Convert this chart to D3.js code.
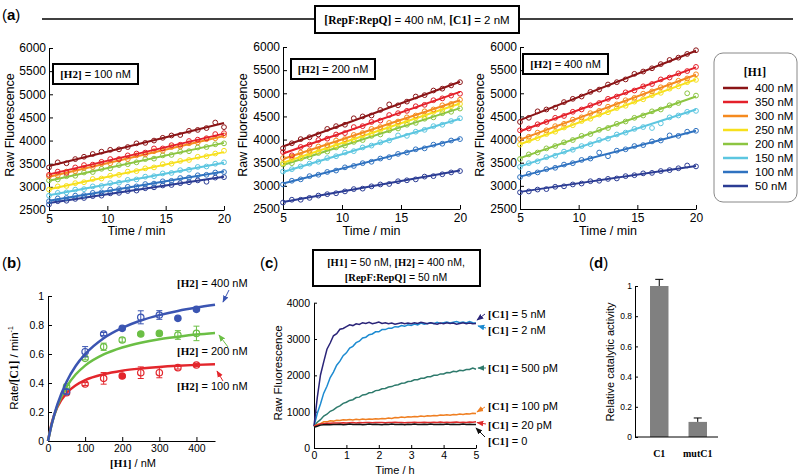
<!DOCTYPE html>
<html>
<head>
<meta charset="utf-8">
<script src="https://cdn.jsdelivr.net/npm/d3@7"></script>
<style>
  html, body { margin: 0; padding: 0; background: #fff; }
  text { white-space: pre; }
</style>
</head>
<body>
<div id="fig"></div>
<script>
// ---------- data ----------
// panel (a): time points (min) and fitted lines for each [H1]
const tMin = [5, 5.75, 6.5, 7.25, 8, 8.75, 9.5, 10.25, 11, 11.75, 12.5, 13.25, 14, 14.75, 15.5, 16.25, 17, 17.75, 18.5, 19.25, 20];
const fitT = [5, 20];
const h1Levels = ["400 nM", "350 nM", "300 nM", "250 nM", "200 nM", "150 nM", "100 nM", "50 nM"];
const h1Colors = ["#8b1416", "#e4202a", "#f58a1f", "#f7e01c", "#8cc541", "#5cc6e0", "#2f72c0", "#2b3c94"];
const h2Titles = ["[H2] = 100 nM", "[H2] = 200 nM", "[H2] = 400 nM"];

// fitted start / end (t = 5 and t = 20)
const lineH2_100 = [[3450, 4380], [3270, 4150], [3220, 4100], [2950, 3750], [3130, 3950], [2820, 3520], [2700, 3330], [2650, 3220]];
const lineH2_200 = [[3850, 5250], [3700, 5030], [3580, 4850], [3500, 4780], [3450, 4680], [3300, 4450], [3050, 4020], [2650, 3330]];
const lineH2_400 = [[4420, 5920], [4180, 5560], [4000, 5400], [3900, 5300], [3600, 4930], [3420, 4650], [3200, 4190], [2870, 3430]];

// raw fluorescence readings
const rawH2_100 = [
  [3420, 3530, 3510, 3600, 3650, 3710, 3760, 3800, 3810, 3860, 3940, 3950, 4000, 4060, 4110, 4120, 4210, 4230, 4270, 4390, 4290],
  [3260, 3330, 3300, 3420, 3470, 3480, 3540, 3600, 3600, 3680, 3720, 3740, 3830, 3830, 3900, 3910, 3990, 4020, 4050, 4140, 4160],
  [3230, 3250, 3330, 3340, 3410, 3430, 3500, 3510, 3590, 3600, 3680, 3700, 3770, 3780, 3860, 3870, 3940, 3960, 4030, 4050, 4110],
  [2940, 3010, 3020, 3080, 3100, 3170, 3180, 3240, 3260, 3330, 3340, 3400, 3420, 3490, 3500, 3560, 3580, 3650, 3660, 3720, 3780],
  [3140, 3160, 3230, 3240, 3310, 3320, 3390, 3400, 3470, 3490, 3530, 3600, 3610, 3680, 3690, 3760, 3770, 3850, 3860, 3920, 3940],
  [2810, 2870, 2880, 2940, 2950, 3010, 3020, 3080, 3090, 3150, 3160, 3220, 3230, 3290, 3300, 3360, 3370, 3430, 3440, 3500, 3530],
  [2690, 2750, 2760, 2810, 2820, 2870, 2880, 2940, 2950, 3000, 3010, 3060, 3070, 3120, 3130, 3190, 3200, 3250, 3260, 3310, 3320],
  [2620, 2690, 2700, 2740, 2760, 2800, 2810, 2860, 2870, 2910, 2920, 2970, 2990, 3030, 3040, 3080, 3100, 3140, 3110, 3200, 3210]
];
const rawH2_200 = [
  [3810, 3920, 4010, 4050, 4110, 4230, 4290, 4320, 4460, 4500, 4520, 4640, 4760, 4740, 4820, 4930, 4960, 5060, 5100, 5170, 5240],
  [3730, 3660, 3840, 3890, 3990, 4020, 4110, 4140, 4270, 4290, 4380, 4410, 4530, 4570, 4620, 4720, 4750, 4850, 4890, 4950, 4990],
  [3600, 3630, 3720, 3760, 3850, 3880, 3980, 4010, 4100, 4140, 4230, 4270, 4360, 4390, 4480, 4520, 4610, 4650, 4740, 4770, 4860],
  [3490, 3580, 3610, 3700, 3740, 3830, 3870, 3960, 4000, 4090, 4130, 4210, 4260, 4340, 4380, 4470, 4510, 4600, 4640, 4720, 4770],
  [3460, 3490, 3590, 3620, 3710, 3740, 3830, 3870, 3950, 3990, 4080, 4110, 4200, 4240, 4320, 4360, 4450, 4480, 4570, 4600, 4670],
  [3310, 3360, 3420, 3480, 3520, 3600, 3640, 3720, 3750, 3830, 3870, 3940, 3980, 4090, 4080, 4170, 4210, 4290, 4320, 4400, 4460],
  [3030, 3110, 3140, 3210, 3240, 3300, 3330, 3400, 3430, 3490, 3520, 3590, 3620, 3690, 3720, 3790, 3810, 3890, 3910, 3980, 4010],
  [2640, 2700, 2700, 2740, 2790, 2820, 2840, 2880, 2930, 2940, 2990, 3030, 3040, 3100, 3120, 3140, 3200, 3210, 3250, 3290, 3320]
];
const rawH2_400 = [
  [4380, 4470, 4610, 4650, 4690, 4810, 4880, 4930, 5030, 5080, 5190, 5240, 5300, 5420, 5470, 5540, 5630, 5720, 5770, 5850, 5930],
  [4200, 4240, 4330, 4380, 4470, 4510, 4600, 4650, 4740, 4790, 4880, 4930, 5020, 5060, 5150, 5200, 5300, 5340, 5430, 5480, 5570],
  [4010, 4060, 4150, 4200, 4290, 4340, 4430, 4480, 4570, 4620, 4710, 4760, 4850, 4900, 4990, 5040, 5130, 5180, 5270, 5320, 5410],
  [3890, 3980, 4030, 4120, 4170, 4260, 4310, 4400, 4450, 4540, 4590, 4680, 4730, 4820, 4870, 4960, 5010, 5100, 5150, 5240, 5290],
  [3580, 3680, 3720, 3810, 3860, 3940, 3990, 4080, 4120, 4210, 4250, 4340, 4390, 4470, 4520, 4610, 4650, 4740, 4790, 5000, 4950],
  [3410, 3490, 3530, 3620, 3650, 3740, 3780, 3860, 3900, 3990, 4020, 4110, 4150, 4230, 4270, 4250, 4350, 4480, 4520, 4600, 4620],
  [3190, 3260, 3290, 3360, 3390, 3460, 3490, 3560, 3590, 3720, 3640, 3760, 3790, 3860, 3880, 3960, 3980, 4090, 4080, 4170, 4190],
  [2860, 2880, 2920, 2930, 2980, 2990, 3030, 3050, 3100, 3110, 3150, 3160, 3210, 3230, 3270, 3280, 3320, 3340, 3380, 3440, 3420]
];
const aTicksX = [5, 10, 15, 20];
const aTicksY = [2500, 3000, 3500, 4000, 4500, 5000, 5500, 6000];

// panel (b): rate vs [H1]
const h1Conc = [50, 100, 150, 200, 250, 300, 350, 400];
const bSeries = ["[H2] = 400 nM", "[H2] = 200 nM", "[H2] = 100 nM"];
const bColors = ["#3b55b2", "#6bbf45", "#e3262c"];
const rateH2_400 = [0.34, 0.616, 0.738, 0.777, 0.853, 0.869, 0.846, 0.908];
const rateH2_200 = [0.375, 0.57, 0.65, 0.697, 0.738, 0.742, 0.731, 0.742];
const rateH2_100 = [0.333, 0.393, 0.432, 0.448, 0.471, 0.471, 0.506, 0.524];
const errH2_400 = [0.015, 0.035, 0.01, 0.01, 0.045, 0.03, 0.01, 0.01];
const errH2_200 = [0.01, 0.01, 0.025, 0.015, 0.01, 0.01, 0.03, 0.05];
const errH2_100 = [0.01, 0.01, 0.04, 0.01, 0.04, 0.035, 0.01, 0.01];
const solidH2_400 = [0, 0, 0, 1, 0, 0, 1, 1];
const solidH2_200 = [0, 0, 0, 0, 1, 1, 0, 0];
const solidH2_100 = [0, 0, 0, 1, 0, 0, 0, 0];
const fitX = [0, 10, 25, 50, 75, 100, 150, 200, 250, 300, 350, 400, 450];
const fitH2_400 = [0, 0.115, 0.25, 0.409, 0.519, 0.599, 0.709, 0.780, 0.831, 0.868, 0.897, 0.920, 0.939];
const fitH2_200 = [0, 0.116, 0.240, 0.374, 0.460, 0.520, 0.597, 0.645, 0.678, 0.702, 0.719, 0.734, 0.745];
const fitH2_100 = [0, 0.123, 0.233, 0.331, 0.385, 0.420, 0.461, 0.485, 0.500, 0.511, 0.519, 0.525, 0.530];
const bTicksX = [0, 100, 200, 300, 400];
const bTicksY = [0, 0.2, 0.4, 0.6, 0.8, 1];

// panel (c): kinetics over 5 h
const tHour = [0, 0.1, 0.2, 0.3, 0.4, 0.5, 0.6, 0.7, 0.8, 0.9, 1, 1.1, 1.2, 1.3, 1.4, 1.5, 1.6, 1.7, 1.8, 1.9, 2,
  2.1, 2.2, 2.3, 2.4, 2.5, 2.6, 2.7, 2.8, 2.9, 3, 3.1, 3.2, 3.3, 3.4, 3.5, 3.6, 3.7, 3.8, 3.9, 4,
  4.1, 4.2, 4.3, 4.4, 4.5, 4.6, 4.7, 4.8, 4.9, 5];
const c1Labels = ["[C1] = 500 pM", "[C1] = 2 nM", "[C1] = 5 nM", "[C1] = 100 pM", "[C1] = 20 pM", "[C1] = 0"];
const c1Colors = ["#2e7a6c", "#1d8bd1", "#2a2478", "#ef7f22", "#df2a2a", "#111111"];
const c1_500pM = [600, 710, 780, 880, 930, 1010, 1050, 1120, 1160, 1230, 1260, 1310, 1330, 1390, 1400, 1460, 1470, 1520, 1530, 1580, 1590,
  1630, 1640, 1680, 1690, 1730, 1740, 1780, 1790, 1830, 1840, 1880, 1880, 1920, 1920, 1960, 1960, 2000, 2000, 2040, 2040,
  2080, 2070, 2110, 2100, 2140, 2130, 2160, 2160, 2200, 2170];
const c1_2nM = [600, 950, 1210, 1510, 1700, 1940, 2090, 2280, 2390, 2540, 2620, 2750, 2800, 2900, 2940, 3030, 3050, 3120, 3140, 3200, 3200,
  3260, 3260, 3300, 3300, 3340, 3330, 3370, 3350, 3390, 3370, 3410, 3390, 3440, 3410, 3430, 3450, 3420, 3460, 3430, 3450,
  3470, 3440, 3460, 3480, 3450, 3470, 3440, 3480, 3450, 3440];
const c1_5nM = [600, 1380, 2010, 2370, 2720, 2890, 3090, 3150, 3270, 3290, 3340, 3390, 3370, 3420, 3400, 3450, 3430, 3460, 3420, 3440, 3470,
  3430, 3450, 3420, 3440, 3410, 3430, 3450, 3420, 3440, 3420, 3450, 3430, 3460, 3440, 3420, 3450, 3430, 3410, 3440, 3420,
  3450, 3430, 3440, 3410, 3430, 3450, 3420, 3440, 3420, 3430];
const c1_100pM = [600, 650, 670, 720, 720, 750, 740, 765, 755, 775, 770, 785, 770, 790, 780, 795, 785, 800, 790, 805, 800,
  815, 805, 825, 815, 840, 830, 850, 840, 860, 855, 870, 860, 880, 870, 885, 880, 895, 890, 905, 900,
  915, 905, 925, 915, 935, 925, 945, 935, 955, 950];
const c1_20pM = [600, 630, 660, 670, 680, 680, 690, 685, 690, 695, 690, 695, 700, 690, 700, 695, 700, 705, 695, 700, 705,
  700, 695, 705, 700, 710, 700, 705, 695, 705, 700, 710, 705, 700, 710, 705, 700, 710, 705, 715, 705,
  710, 700, 710, 715, 705, 710, 700, 715, 710, 720];
const c1_0 = [570, 600, 630, 640, 645, 640, 650, 645, 655, 640, 650, 660, 645, 650, 655, 640, 650, 660, 645, 655, 650,
  640, 655, 650, 660, 645, 650, 655, 640, 655, 650, 660, 645, 650, 655, 645, 660, 650, 645, 655, 650,
  660, 645, 655, 650, 645, 660, 650, 655, 645, 650];
const cTicksX = [0, 1, 2, 3, 4, 5];
const cTicksY = [0, 1000, 2000, 3000, 4000];

// panel (d): relative activity
const dNames = ["C1", "mutC1"];
const dValues = [1.0, 0.1];
const dErrors = [0.044, 0.026];
const dTicksY = [0, 0.2, 0.4, 0.6, 0.8, 1];

// ---------- drawing ----------
const SANS = "'Liberation Sans', Arial, Helvetica, sans-serif";
const SERIF = "'Liberation Serif', 'Times New Roman', serif";
const W = 800, H = 476;
const fmtInt = d3.format("d");
const fmtG = d3.format("~g");

const svg = d3.select("#fig").append("svg")
  .attr("width", W).attr("height", H)
  .attr("font-family", SANS);
svg.append("rect").attr("width", W).attr("height", H).attr("fill", "#fff");

// text where [..] parts are bold serif
function richText(g, str, x, y, size, anchor) {
  const t = g.append("text")
    .attr("x", x).attr("y", y)
    .attr("font-size", size)
    .attr("font-family", SANS)
    .attr("text-anchor", anchor || "start");
  str.split(/(\[[^\]]+\])/).filter(s => s.length).forEach(s => {
    const sp = t.append("tspan").text(s);
    if (s[0] === "[") sp.attr("font-family", SERIF).attr("font-weight", "bold");
  });
  return t;
}

function panelLabel(x, y, ch) {
  const t = svg.append("text").attr("x", x).attr("y", y).attr("font-size", 15);
  t.append("tspan").text("(");
  t.append("tspan").attr("font-weight", "bold").text(ch);
  t.append("tspan").text(")");
}

function styleAxis(g, size) {
  g.attr("font-family", SANS).attr("font-size", size);
  g.select(".domain").attr("stroke", "#000").attr("stroke-width", 1);
  g.selectAll(".tick line").attr("stroke", "#000");
  g.selectAll(".tick text").attr("fill", "#000");
}

// arrow markers
const defs = svg.append("defs");
function arrowId(color) {
  const id = "arr" + color.replace("#", "");
  if (defs.select("#" + id).empty()) {
    defs.append("marker").attr("id", id)
      .attr("viewBox", "0 0 10 10").attr("refX", 9).attr("refY", 5)
      .attr("markerWidth", 7).attr("markerHeight", 7)
      .attr("markerUnits", "userSpaceOnUse").attr("orient", "auto")
      .append("path").attr("d", "M0,1 L10,5 L0,9 z").attr("fill", color);
  }
  return "url(#" + id + ")";
}
function arrow(g, x1, y1, x2, y2, color) {
  g.append("line").attr("x1", x1).attr("y1", y1).attr("x2", x2).attr("y2", y2)
    .attr("stroke", color).attr("stroke-width", 1).attr("marker-end", arrowId(color));
}

// ---- panel (a) ----
panelLabel(2, 20, "a");
svg.append("line").attr("x1", 42).attr("x2", 793).attr("y1", 19).attr("y2", 19)
  .attr("stroke", "#000").attr("stroke-width", 1.5);
svg.append("rect").attr("x", 315).attr("y", 6).attr("width", 204).attr("height", 27)
  .attr("fill", "#fff").attr("stroke", "#000").attr("stroke-width", 2);
richText(svg, "[RepF:RepQ] = 400 nM, [C1] = 2 nM", 417, 24, 11.5, "middle");

const aFits = [lineH2_100, lineH2_200, lineH2_400];
const aRaw = [rawH2_100, rawH2_200, rawH2_400];
const aLayout = [
  { x0: 49, x1: 224, y0: 210, y1: 48, box: [53, 64, 85, 20], labX: 10 },
  { x0: 283, x1: 460, y0: 209, y1: 47, box: [291, 59, 84, 20], labX: 243 },
  { x0: 520, x1: 696, y0: 209, y1: 47, box: [523, 54, 85, 20], labX: 480 }
];

aLayout.forEach((p, k) => {
  const x = d3.scaleLinear().domain([5, 20]).range([p.x0, p.x1]);
  const y = d3.scaleLinear().domain([2500, 6000]).range([p.y0, p.y1]);
  const g = svg.append("g");

  const gx = g.append("g").attr("transform", `translate(0,${p.y0})`)
    .call(d3.axisBottom(x).tickValues(aTicksX).tickFormat(fmtInt).tickSizeInner(-4).tickSizeOuter(0).tickPadding(4));
  styleAxis(gx, 12);
  const gy = g.append("g").attr("transform", `translate(${p.x0},0)`)
    .call(d3.axisLeft(y).tickValues(aTicksY).tickFormat(fmtInt).tickSizeInner(-4).tickSizeOuter(0).tickPadding(3));
  styleAxis(gy, 12);

  g.append("text").attr("x", (p.x0 + p.x1) / 2).attr("y", 235)
    .attr("text-anchor", "middle").attr("font-size", 12.5).text("Time / min");
  g.append("text").attr("transform", `translate(${p.labX},125) rotate(-90)`)
    .attr("text-anchor", "middle").attr("dominant-baseline", "central")
    .attr("font-size", 12.5).text("Raw Fluorescence");

  const line = d3.line().x((d, i) => x(fitT[i])).y(d => y(d));
  for (let i = h1Levels.length - 1; i >= 0; i--) {
    const col = h1Colors[i];
    g.append("path").datum(aFits[k][i]).attr("d", line)
      .attr("fill", "none").attr("stroke", col).attr("stroke-width", 2);
    g.append("g").selectAll("circle").data(aRaw[k][i]).join("circle")
      .attr("cx", (d, j) => x(tMin[j])).attr("cy", d => y(d)).attr("r", 2.4)
      .attr("fill", "none").attr("stroke", col).attr("stroke-width", 1);
  }

  const [bx, by, bw, bh] = p.box;
  g.append("rect").attr("x", bx).attr("y", by).attr("width", bw).attr("height", bh)
    .attr("fill", "#fff").attr("stroke", "#000").attr("stroke-width", 2);
  richText(g, h2Titles[k], bx + bw / 2, by + bh / 2 + 4, 11, "middle");
});

// legend
const lg = svg.append("g");
lg.append("rect").attr("x", 714).attr("y", 53).attr("width", 83).attr("height", 149)
  .attr("rx", 9).attr("fill", "#fff").attr("stroke", "#888").attr("stroke-width", 1);
richText(lg, "[H1]", 755, 76, 11.5, "middle");
const ly = d3.scalePoint().domain(h1Levels).range([88, 186]);
h1Levels.forEach((lev, i) => {
  lg.append("line").attr("x1", 723).attr("x2", 748).attr("y1", ly(lev)).attr("y2", ly(lev))
    .attr("stroke", h1Colors[i]).attr("stroke-width", 2.5);
  lg.append("text").attr("x", 755).attr("y", ly(lev)).attr("dominant-baseline", "central")
    .attr("font-size", 11.5).text(lev);
});

// ---- panel (b) ----
panelLabel(2, 268, "b");
{
  const x = d3.scaleLinear().domain([0, 450]).range([48, 215]);
  const y = d3.scaleLinear().domain([0, 1]).range([441, 296]);
  const g = svg.append("g");
  const gx = g.append("g").attr("transform", "translate(0,441)")
    .call(d3.axisBottom(x).tickValues(bTicksX).tickFormat(fmtInt).tickSizeInner(-4).tickSizeOuter(0).tickPadding(4));
  styleAxis(gx, 10.5);
  const gy = g.append("g").attr("transform", "translate(48,0)")
    .call(d3.axisLeft(y).tickValues(bTicksY).tickFormat(fmtG).tickSizeInner(-4).tickSizeOuter(0).tickPadding(4));
  styleAxis(gy, 10.5);

  richText(g, "[H1] / nM", 133, 467, 11, "middle");
  const yl = richText(g, "Rate/[C1] / min", 0, 0, 11.5, "middle")
    .attr("transform", "translate(14,368) rotate(-90)").attr("dominant-baseline", "central");
  yl.append("tspan").attr("font-size", 7).attr("dy", -4).text("-1");

  const rates = [rateH2_400, rateH2_200, rateH2_100];
  const errs = [errH2_400, errH2_200, errH2_100];
  const solids = [solidH2_400, solidH2_200, solidH2_100];
  const fits = [fitH2_400, fitH2_200, fitH2_100];
  const line = d3.line().x((d, i) => x(fitX[i])).y(d => y(d)).curve(d3.curveMonotoneX);

  [2, 1, 0].forEach(s => {
    const col = bColors[s];
    g.append("path").datum(fits[s]).attr("d", line)
      .attr("fill", "none").attr("stroke", col).attr("stroke-width", 2.5);
    const pts = g.append("g").selectAll("g").data(rates[s]).join("g")
      .attr("transform", (d, i) => `translate(${x(h1Conc[i])},0)`);
    pts.append("line").attr("y1", (d, i) => y(d - errs[s][i])).attr("y2", (d, i) => y(d + errs[s][i]))
      .attr("stroke", col).attr("stroke-width", 1);
    pts.append("line").attr("x1", -3).attr("x2", 3)
      .attr("y1", (d, i) => y(d + errs[s][i])).attr("y2", (d, i) => y(d + errs[s][i]))
      .attr("stroke", col).attr("stroke-width", 1);
    pts.append("line").attr("x1", -3).attr("x2", 3)
      .attr("y1", (d, i) => y(d - errs[s][i])).attr("y2", (d, i) => y(d - errs[s][i]))
      .attr("stroke", col).attr("stroke-width", 1);
    pts.append("circle").attr("cy", d => y(d)).attr("r", 3.2)
      .attr("fill", (d, i) => solids[s][i] ? col : "none")
      .attr("stroke", col).attr("stroke-width", 1.2);
  });

  richText(g, bSeries[0], 177, 287, 11, "start");
  richText(g, bSeries[1], 177, 355, 11, "start");
  richText(g, bSeries[2], 177, 390, 11, "start");
  arrow(g, 229, 290, 223, 302, bColors[0]);
  arrow(g, 228, 347, 219, 335, bColors[1]);
  arrow(g, 223, 381, 217, 371, bColors[2]);
}

// ---- panel (c) ----
panelLabel(260, 268, "c");
{
  const x = d3.scaleLinear().domain([0, 5]).range([314, 476]);
  const y = d3.scaleLinear().domain([0, 4000]).range([448, 302.7]);
  const g = svg.append("g");

  g.append("rect").attr("x", 313).attr("y", 250).attr("width", 167).attr("height", 36)
    .attr("fill", "#fff").attr("stroke", "#000").attr("stroke-width", 2);
  richText(g, "[H1] = 50 nM, [H2] = 400 nM,", 396, 266, 10.5, "middle");
  richText(g, "[RepF:RepQ] = 50 nM", 396, 281, 10.5, "middle");

  const gx = g.append("g").attr("transform", "translate(0,448)")
    .call(d3.axisBottom(x).tickValues(cTicksX).tickFormat(fmtInt).tickSizeInner(-3).tickSizeOuter(0).tickPadding(4));
  styleAxis(gx, 10.5);
  const gy = g.append("g").attr("transform", "translate(314,0)")
    .call(d3.axisLeft(y).tickValues(cTicksY).tickFormat(fmtInt).tickSizeInner(-3).tickSizeOuter(0).tickPadding(4));
  styleAxis(gy, 10.5);

  g.append("text").attr("x", 395).attr("y", 474).attr("text-anchor", "middle")
    .attr("font-size", 11).text("Time / h");
  g.append("text").attr("transform", "translate(278,373) rotate(-90)")
    .attr("text-anchor", "middle").attr("dominant-baseline", "central")
    .attr("font-size", 11.5).text("Raw Fluorescence");

  const series = [c1_500pM, c1_2nM, c1_5nM, c1_100pM, c1_20pM, c1_0];
  const line = d3.line().x((d, i) => x(tHour[i])).y(d => y(d));
  series.forEach((s, i) => {
    g.append("path").datum(s).attr("d", line)
      .attr("fill", "none").attr("stroke", c1Colors[i]).attr("stroke-width", 1.5);
  });

  // labels on the right, with arrows
  const lab = [
    { i: 2, y: 314, a: [485, 314, 477, 320] },
    { i: 1, y: 330, a: [486, 328, 478, 326] },
    { i: 0, y: 368, a: [486, 368, 478, 368] },
    { i: 3, y: 406, a: [485, 407, 477, 412] },
    { i: 4, y: 425, a: [486, 424, 477, 422.5] },
    { i: 5, y: 441, a: [485, 437, 476, 428] }
  ];
  lab.forEach(l => {
    richText(g, c1Labels[l.i], 488, l.y + 4, 11, "start");
    arrow(g, l.a[0], l.a[1], l.a[2], l.a[3], c1Colors[l.i]);
  });
}

// ---- panel (d) ----
panelLabel(589, 268, "d");
{
  const x = d3.scaleBand().domain(dNames).range([635, 722]).paddingInner(0.52).paddingOuter(0.39);
  const y = d3.scaleLinear().domain([0, 1]).range([437, 286]);
  const g = svg.append("g");

  g.selectAll("rect.bar").data(dValues).join("rect").attr("class", "bar")
    .attr("x", (d, i) => x(dNames[i])).attr("width", x.bandwidth())
    .attr("y", d => y(d)).attr("height", d => y(0) - y(d))
    .attr("fill", "#808080");
  const eb = g.append("g").selectAll("g").data(dValues).join("g")
    .attr("transform", (d, i) => `translate(${x(dNames[i]) + x.bandwidth() / 2},0)`);
  eb.append("line").attr("y1", d => y(d)).attr("y2", (d, i) => y(d + dErrors[i]))
    .attr("stroke", "#000").attr("stroke-width", 1);
  eb.append("line").attr("x1", -4).attr("x2", 4)
    .attr("y1", (d, i) => y(d + dErrors[i])).attr("y2", (d, i) => y(d + dErrors[i]))
    .attr("stroke", "#000").attr("stroke-width", 1);

  const gy = g.append("g").attr("transform", "translate(635,0)")
    .call(d3.axisLeft(y).tickValues(dTicksY).tickFormat(fmtG).tickSizeInner(-3).tickSizeOuter(0).tickPadding(3));
  styleAxis(gy, 8.5);
  g.append("line").attr("x1", 635).attr("x2", 718).attr("y1", 437).attr("y2", 437)
    .attr("stroke", "#000").attr("stroke-width", 1);

  dNames.forEach(n => {
    g.append("text").attr("x", x(n) + x.bandwidth() / 2).attr("y", 457)
      .attr("text-anchor", "middle").attr("font-family", SERIF).attr("font-weight", "bold")
      .attr("font-size", 10).text(n);
  });
  g.append("text").attr("transform", "translate(610,362) rotate(-90)")
    .attr("text-anchor", "middle").attr("dominant-baseline", "central")
    .attr("font-size", 11).text("Relative catalytic activity");
}
</script>
</body>
</html>
